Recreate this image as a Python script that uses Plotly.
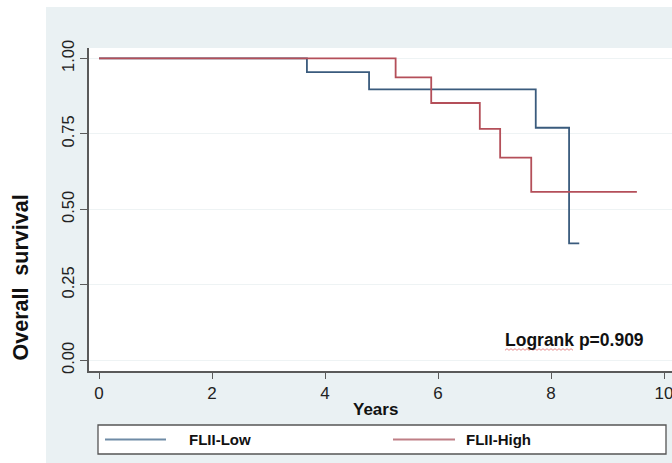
import plotly.graph_objects as go

# Kaplan-Meier step data (years, survival)
low_t = [0, 3.68, 4.78, 7.73, 8.32, 8.50]
low_s = [1.0, 0.954, 0.897, 0.770, 0.387, 0.387]
high_t = [0, 5.25, 5.88, 6.74, 7.10, 7.65, 9.52]
high_s = [1.0, 0.937, 0.852, 0.766, 0.671, 0.558, 0.558]

series_names = ["FLII-Low", "FLII-High"]
series_colors = ["#3a5b7d", "#b44f59"]
x_ticks = [0, 2, 4, 6, 8, 10]
y_ticks = [0.0, 0.25, 0.5, 0.75, 1.0]
y_ticklabels = ["0.00", "0.25", "0.50", "0.75", "1.00"]
pvalue_text = "Logrank p=0.909"

W, H = 672, 463
ML, MR, MT, MB = 89, 0, 48, 92
PW, PH = W - ML - MR, H - MT - MB


def px_x(p):
    return (p - ML) / PW


def px_y(p):
    return (H - MB - p) / PH


FONT = "Liberation Sans, Arial, sans-serif"

fig = go.Figure()
fig.add_trace(go.Scatter(x=low_t, y=low_s, mode="lines", line=dict(shape="hv", color=series_colors[0], width=1.8),
                         name=series_names[0], showlegend=False))
fig.add_trace(go.Scatter(x=high_t, y=high_s, mode="lines", line=dict(shape="hv", color=series_colors[1], width=1.8),
                         name=series_names[1], showlegend=False))

shapes = []
# white strips outside the grey graph region
shapes.append(dict(type="rect", xref="paper", yref="paper", x0=px_x(-5), x1=px_x(46), y0=px_y(470), y1=px_y(-5),
                   fillcolor="white", line=dict(width=0), layer="below"))
shapes.append(dict(type="rect", xref="paper", yref="paper", x0=px_x(-5), x1=px_x(680), y0=px_y(7), y1=px_y(-5),
                   fillcolor="white", line=dict(width=0), layer="below"))
# legend box
shapes.append(dict(type="rect", xref="paper", yref="paper", x0=px_x(98), x1=px_x(666), y0=px_y(454), y1=px_y(425),
                   fillcolor="white", line=dict(color="#555555", width=1.3)))
shapes.append(dict(type="line", xref="paper", yref="paper", x0=px_x(105), x1=px_x(166), y0=px_y(439.5), y1=px_y(439.5),
                   line=dict(color="#6f8ba6", width=2)))
shapes.append(dict(type="line", xref="paper", yref="paper", x0=px_x(393), x1=px_x(455), y0=px_y(439.5), y1=px_y(439.5),
                   line=dict(color="#bf7f86", width=2)))
# spell-check style wavy underline under "Logrank"
wave_pts = []
px0, px1, yc = 505, 573, 349.5
k = 0
xp = px0
while xp <= px1:
    wave_pts.append((px_x(xp), px_y(yc + (0.8 if k % 2 == 0 else -0.8))))
    xp += 2
    k += 1
wave_path = "M " + " L ".join(f"{a:.5f},{b:.5f}" for a, b in wave_pts)
shapes.append(dict(type="path", xref="paper", yref="paper", path=wave_path,
                   line=dict(color="rgba(210,60,60,0.75)", width=0.8)))

annotations = [
    dict(text="<b>Years</b>", xref="paper", yref="paper", x=px_x(375.5), y=px_y(409), showarrow=False,
         font=dict(family=FONT, size=17, color="#111111"), xanchor="center", yanchor="middle"),
    dict(text="<b>Overall  survival</b>", xref="paper", yref="paper", x=px_x(20), y=px_y(277.5), showarrow=False,
         textangle=-90, font=dict(family=FONT, size=21.5, color="#111111"), xanchor="center", yanchor="middle"),
    dict(text="<b>" + pvalue_text + "</b>", xref="paper", yref="paper", x=px_x(574.5), y=px_y(339.5), showarrow=False,
         font=dict(family=FONT, size=17.5, color="#111111"), xanchor="center", yanchor="middle"),
    dict(text="<b>" + series_names[0] + "</b>", xref="paper", yref="paper", x=px_x(187), y=px_y(439.5), showarrow=False,
         font=dict(family=FONT, size=15, color="#111111"), xanchor="left", yanchor="middle"),
    dict(text="<b>" + series_names[1] + "</b>", xref="paper", yref="paper", x=px_x(464), y=px_y(439.5), showarrow=False,
         font=dict(family=FONT, size=15, color="#111111"), xanchor="left", yanchor="middle"),
]

fig.update_layout(
    width=W, height=H,
    margin=dict(l=ML, r=MR, t=MT, b=MB, pad=0),
    paper_bgcolor="#eaf1f3",
    plot_bgcolor="white",
    shapes=shapes,
    annotations=annotations,
    showlegend=False,
    font=dict(family=FONT, color="#222222"),
)
fig.update_xaxes(
    range=[(89 - 99) / 56.5, (672 - 99) / 56.5],
    tickvals=x_ticks, ticktext=[str(v) for v in x_ticks],
    ticklabeloverflow="allow",
    showgrid=False, zeroline=False,
    showline=True, linecolor="#5a5a5a", linewidth=1.5,
    ticks="outside", ticklen=6, tickwidth=1.2, tickcolor="#5a5a5a",
    tickfont=dict(family=FONT, size=17, color="#222222"),
)
fig.update_yaxes(
    range=[-0.0354, 1.0341],
    tickvals=y_ticks, ticktext=y_ticklabels, tickangle=-90,
    showgrid=True, gridcolor="#eef3f4", gridwidth=1.2, zeroline=False,
    showline=True, linecolor="#5a5a5a", linewidth=1.5,
    ticks="outside", ticklen=7, tickwidth=1.2, tickcolor="#5a5a5a",
    tickfont=dict(family=FONT, size=16.5, color="#222222"),
)

fig.write_html("out.html")
